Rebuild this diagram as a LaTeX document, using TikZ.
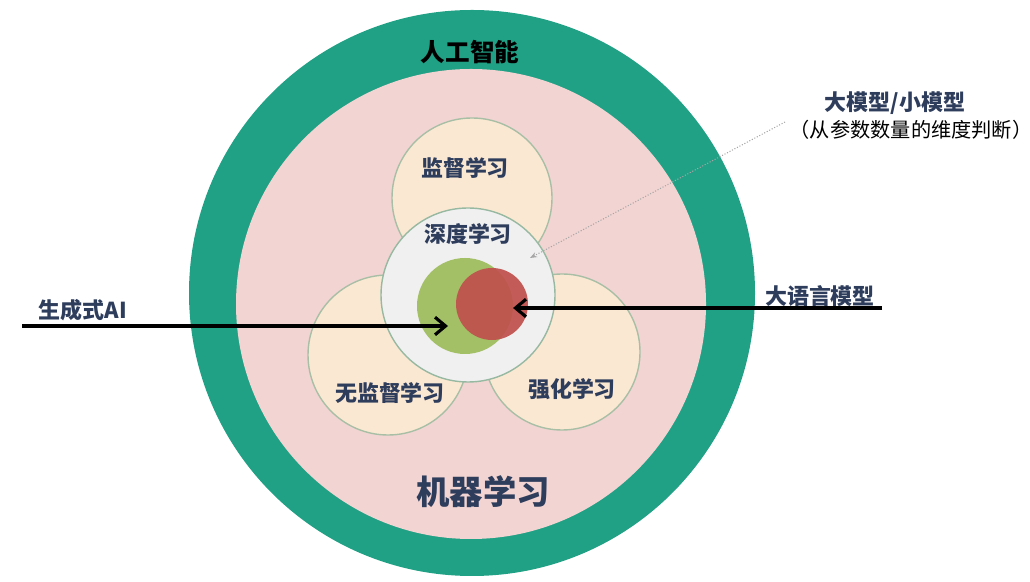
\documentclass[tikz,border=0pt]{standalone}
\usepackage{fontspec}
\newfontfamily\cjk{Noto Sans CJK SC}
\usetikzlibrary{arrows.meta}
\usepackage{xcolor}
\definecolor{ringgreen}{HTML}{20A084}
\definecolor{mlpink}{HTML}{F2D4D2}
\definecolor{subcream}{HTML}{FBE8D2}
\definecolor{subedge}{HTML}{A8BFA6}
\definecolor{deepgray}{HTML}{F0F0F0}
\definecolor{genaigreen}{HTML}{9BBB59}
\definecolor{llmred}{HTML}{C0504D}
\definecolor{labelnavy}{HTML}{2E3D5C}

\begin{document}
\begin{tikzpicture}[x=0.02cm, y=0.02cm, >={Straight Barb[length=6pt,width=10pt]},
  every node/.style={font=\cjk},
  subfield/.style={fill=subcream, draw=subedge, line width=0.8pt},
  fieldlabel/.style={text=labelnavy, font=\cjk\bfseries\fontsize{12.5}{14}\selectfont},
  callout/.style={->, line width=1.8pt, black}]
  \useasboundingbox (0,0) rectangle (1030,581);
  % outer rings
  \fill[ringgreen] (472,288) circle[radius=283];
  \fill[mlpink] (471,277) circle[radius=235];
  % three learning paradigms
  \draw[subfield] (472,383) circle[radius=80];
  \draw[subfield] (388,226) circle[radius=80];
  \draw[subfield] (562,229) circle[radius=78];
  \draw[fill=deepgray, draw=subedge!90!teal, line width=0.8pt] (468,286) circle[radius=87];
  \fill[genaigreen, opacity=0.9] (465,275) circle[radius=48];
  \fill[llmred, opacity=0.92] (492,277) circle[radius=36];
  % labels
  \node[font=\cjk\bfseries\fontsize{14}{16}\selectfont] (ai) at (470,529) {人工智能};
  \node[fieldlabel] (sl) at (465,413) {监督学习};
  \node[fieldlabel] (dl) at (468,347) {深度学习};
  \node[fieldlabel] (ul) at (390,188) {无监督学习};
  \node[fieldlabel] (rl) at (572,192) {强化学习};
  \node[fieldlabel, font=\cjk\bfseries\fontsize{19}{22}\selectfont] (ml) at (483,89) {机器学习};
  \node[fieldlabel] (genai) at (83,271) {生成式AI};
  \node[fieldlabel] (llm) at (820,285) {大语言模型};
  \node[fieldlabel] (size) at (895,478) {大模型/小模型};
  \node[font=\cjk\fontsize{11.5}{13}\selectfont] (sizenote) at (911,451) {（从参数数量的维度判断）};
  % connectors
  \coordinate (genai start) at (22,255);
  \coordinate (genai tip) at (448,255);
  \coordinate (llm start) at (882,273);
  \coordinate (llm tip) at (513,273);
  \coordinate (size start) at (785,459);
  \coordinate (size tip) at (530,323);
  \draw[callout] (genai start) -- (genai tip);
  \draw[callout] (llm start) -- (llm tip);
  \draw[-{Stealth[length=4pt]}, gray!70, densely dotted, line width=0.6pt] (size start) -- (size tip);
\end{tikzpicture}
\end{document}
